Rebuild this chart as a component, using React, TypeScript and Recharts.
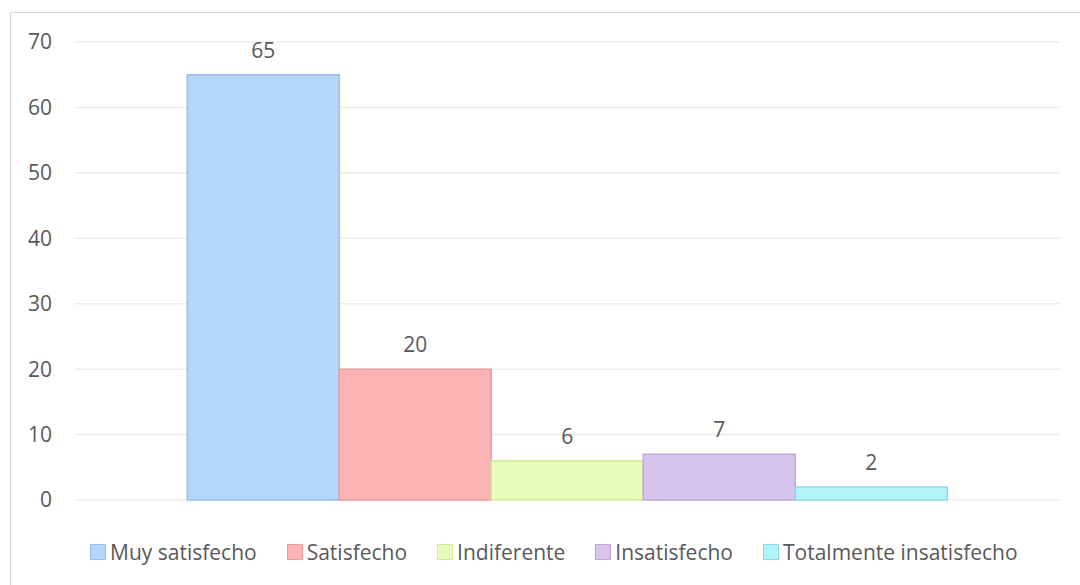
import { BarChart, Bar, XAxis, YAxis, CartesianGrid, LabelList } from "recharts";

const seriesNames = ["Muy satisfecho", "Satisfecho", "Indiferente", "Insatisfecho", "Totalmente insatisfecho"];
const seriesValues = [65, 20, 6, 7, 2];
const fills = ["#b3d7fb", "#fbb3b3", "#e9fbb8", "#d7c4ee", "#b1f5f9"];
const strokes = ["#9cc0eb", "#e99fa2", "#d3e8a3", "#bea9da", "#8ed9e9"];
const yTicks = [0, 10, 20, 30, 40, 50, 60, 70];

const row: Record<string, number | string> = { name: "" };
seriesNames.forEach((n, i) => {
  row[n] = seriesValues[i];
});
const data = [row];

const font = "'Open Sans', sans-serif";
const textColor = "#595959";

function LegendBox() {
  return (
    <div
      style={{
        position: "absolute",
        left: 90,
        top: 538,
        display: "flex",
        alignItems: "center",
        fontFamily: font,
        fontSize: 21,
        color: textColor,
        whiteSpace: "nowrap",
      }}
    >
      {seriesNames.map((n, i) => (
        <div key={n} style={{ display: "flex", alignItems: "center", marginRight: 30 }}>
          <span
            style={{
              display: "inline-block",
              width: 14,
              height: 14,
              background: fills[i],
              border: `1px solid ${strokes[i]}`,
              marginRight: 4,
            }}
          />
          {n}
        </div>
      ))}
    </div>
  );
}

export default function App() {
  return (
    <div style={{ position: "absolute", left: 0, top: 0, width: 1080, height: 585, background: "#fff", overflow: "hidden" }}>
      <div
        style={{
          position: "absolute",
          left: 10,
          top: 12,
          width: 1200,
          height: 700,
          borderLeft: "1px solid #d9d9d9",
          borderTop: "1px solid #d9d9d9",
        }}
      />
      <BarChart
        width={1080}
        height={585}
        data={data}
        margin={{ top: 42, right: 20, left: 10, bottom: 85 }}
        barCategoryGap="11.4%"
        barGap={0}
        style={{ position: "absolute", left: 0, top: 0 }}
      >
        <CartesianGrid vertical={false} stroke="#ececec" strokeWidth={1.5} />
        <XAxis dataKey="name" hide />
        <YAxis
          width={65}
          domain={[0, 70]}
          ticks={yTicks}
          axisLine={false}
          tickLine={false}
          tickMargin={17}
          tick={{ fill: textColor, fontSize: 21, fontFamily: font }}
        />
        {seriesNames.map((n, i) => (
          <Bar key={n} dataKey={n} fill={fills[i]} stroke={strokes[i]} strokeWidth={1.5} isAnimationActive={false}>
            <LabelList dataKey={n} position="top" offset={17} fill={textColor} fontSize={21} fontFamily={font} />
          </Bar>
        ))}
      </BarChart>
      <LegendBox />
    </div>
  );
}
